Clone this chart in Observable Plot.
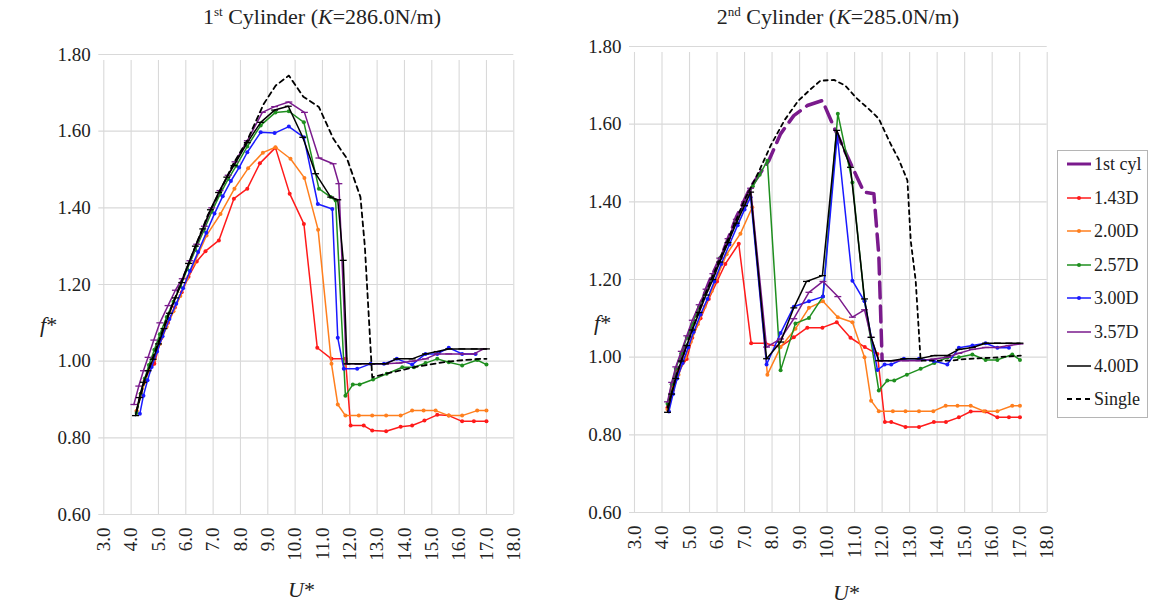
<!DOCTYPE html>
<html>
<head>
<meta charset="utf-8">
<script src="https://cdn.jsdelivr.net/npm/d3@7"></script>
<script src="https://cdn.jsdelivr.net/npm/@observablehq/plot@0.6"></script>
<style>
  body { margin: 0; background: #fff; width: 1158px; height: 613px; overflow: hidden; position: relative;
         font-family: "Liberation Serif", "Times New Roman", "Nimbus Roman", "DejaVu Serif", serif; color: #222; }
  .panel { position: absolute; top: 0; }
  .title { position: absolute; top: 4px; font-size: 22px; white-space: nowrap; transform: translateX(-50%); }
  .title sup { font-size: 13px; }
  .axt { position: absolute; font-size: 22px; white-space: nowrap; }
  #legend { position: absolute; left: 1057px; top: 150px; width: 91px; height: 268px; border: 1px solid #b5b5b5;
            box-sizing: border-box; background: #fff; }
  .item { position: absolute; left: 8px; font-size: 18px; line-height: 18px; white-space: nowrap; display: flex; align-items: center; }
  .item svg { margin-right: 2px; }
</style>
</head>
<body>
<div class="title" style="left:322px">1<sup>st</sup> Cylinder (<i>K</i>=286.0N/m)</div>
<div class="title" style="left:838px">2<sup>nd</sup> Cylinder (<i>K</i>=285.0N/m)</div>
<div id="left" class="panel" style="left:0"></div>
<div id="right" class="panel" style="left:545px"></div>
<div class="axt" style="left:40px;top:312px"><i>f</i>*</div>
<div class="axt" style="left:594px;top:310px"><i>f</i>*</div>
<div class="axt" style="left:288px;top:577px"><i>U</i>*</div>
<div class="axt" style="left:833px;top:580px"><i>U</i>*</div>
<div id="legend"></div>
<script>
// Axis ticks
const xTicks = [3, 4, 5, 6, 7, 8, 9, 10, 11, 12, 13, 14, 15, 16, 17, 18];
const yTicks = [0.6, 0.8, 1.0, 1.2, 1.4, 1.6, 1.8];

// Series names, legend order
const seriesNames = ["1st cyl", "1.43D", "2.00D", "2.57D", "3.00D", "3.57D", "4.00D", "Single"];
const seriesColors = ["#7a1a8c", "#ff1a1a", "#ff7f1e", "#1f8f1f", "#1a1aff", "#7a1a8c", "#000000", "#000000"];

// ---- 1st cylinder (K = 286.0 N/m): [U*, f*] ----
const L143 = [[4.20,0.870],[4.35,0.915],[4.50,0.950],[4.65,0.975],[4.85,0.993],[5.10,1.060],[5.35,1.100],[5.60,1.140],
  [5.85,1.180],[6.10,1.220],[6.40,1.260],[6.72,1.287],[7.21,1.315],[7.76,1.424],[8.25,1.450],[8.71,1.516],[9.28,1.557],
  [9.80,1.437],[10.32,1.358],[10.81,1.035],[11.33,1.006],[11.84,1.006],[12.03,0.832],[12.51,0.832],[12.82,0.819],
  [13.33,0.817],[13.86,0.829],[14.28,0.832],[14.73,0.845],[15.20,0.860],[15.62,0.858],[16.11,0.843],[16.54,0.843],[17.00,0.843]];
const L200 = [[4.20,0.870],[4.35,0.910],[4.50,0.945],[4.65,0.975],[4.85,1.005],[5.05,1.045],[5.30,1.090],[5.55,1.130],
  [5.80,1.170],[6.05,1.215],[6.30,1.255],[6.76,1.328],[7.27,1.384],[7.78,1.450],[8.28,1.503],[8.82,1.544],[9.28,1.558],
  [9.83,1.528],[10.34,1.478],[10.84,1.343],[11.33,0.993],[11.56,0.887],[11.84,0.858],[12.33,0.858],[12.82,0.858],
  [13.33,0.858],[13.86,0.858],[14.28,0.871],[14.70,0.871],[15.14,0.871],[15.62,0.858],[16.11,0.858],[16.66,0.871],[17.00,0.871]];
const L257 = [[4.20,0.865],[4.35,0.915],[4.50,0.955],[4.65,0.990],[4.85,1.030],[5.05,1.070],[5.30,1.115],[5.55,1.155],
  [5.80,1.195],[6.05,1.240],[6.35,1.290],[6.65,1.340],[6.95,1.390],[7.25,1.435],[7.55,1.475],[7.85,1.510],[8.25,1.560],
  [8.74,1.615],[9.28,1.649],[9.77,1.652],[10.32,1.623],[10.87,1.450],[11.30,1.428],[11.48,1.419],[11.84,0.910],
  [12.11,0.939],[12.36,0.939],[12.85,0.952],[13.35,0.967],[13.92,0.984],[14.35,0.984],[14.77,0.995],[15.20,1.006],
  [15.62,0.997],[16.11,0.989],[16.66,1.003],[17.00,0.991]];
const L300 = [[4.32,0.863],[4.45,0.910],[4.60,0.950],[4.75,0.985],[4.95,1.025],[5.15,1.065],[5.40,1.110],[5.65,1.150],
  [5.90,1.190],[6.15,1.235],[6.45,1.285],[6.75,1.335],[7.05,1.385],[7.35,1.430],[7.65,1.470],[7.95,1.505],[8.25,1.545],
  [8.74,1.597],[9.25,1.595],[9.77,1.612],[10.32,1.584],[10.83,1.410],[11.36,1.397],[11.56,1.061],[11.78,0.980],
  [12.27,0.980],[12.76,0.993],[13.25,0.993],[13.72,1.006],[14.28,0.991],[14.77,1.019],[15.20,1.019],[15.62,1.035],
  [16.11,1.019],[16.60,1.019]];
const L357 = [[4.10,0.887],[4.28,0.935],[4.45,0.975],[4.62,1.010],[4.83,1.055],[5.05,1.100],[5.35,1.145],[5.62,1.185],
  [5.87,1.215],[6.15,1.262],[6.40,1.305],[6.68,1.352],[6.95,1.400],[7.25,1.445],[7.55,1.485],[7.80,1.520],[8.25,1.575],
  [8.80,1.649],[9.25,1.664],[9.77,1.676],[10.34,1.649],[10.87,1.530],[11.39,1.515],[11.60,1.463],[11.87,0.993],
  [12.30,0.993],[12.80,0.993],[13.30,0.993],[13.80,0.995],[14.28,1.000],[14.77,1.006],[15.20,1.019],[15.62,1.019],
  [16.10,1.019],[16.54,1.019],[16.90,1.032]];
const L400 = [[4.16,0.858],[4.30,0.905],[4.45,0.945],[4.62,0.975],[4.80,1.005],[5.00,1.045],[5.20,1.085],[5.40,1.125],
  [5.62,1.165],[5.85,1.205],[6.10,1.255],[6.35,1.300],[6.62,1.345],[6.90,1.395],[7.20,1.440],[7.50,1.480],[7.76,1.510],
  [8.25,1.570],[8.74,1.623],[9.25,1.655],[9.75,1.665],[10.28,1.584],[10.75,1.489],[11.30,1.428],[11.56,1.421],
  [11.76,1.263],[11.90,0.993],[12.30,0.993],[12.80,0.993],[13.30,0.993],[13.72,1.006],[14.28,1.006],[14.77,1.019],
  [15.20,1.025],[15.62,1.032],[16.10,1.032],[16.55,1.032],[17.00,1.032]];
const LSingle = [[4.20,0.870],[4.50,0.950],[4.85,1.020],[5.30,1.110],[5.80,1.200],[6.30,1.290],[6.80,1.380],[7.21,1.437],
  [7.70,1.510],[8.25,1.576],[8.85,1.671],[9.29,1.719],[9.77,1.745],[10.30,1.690],[10.87,1.663],[11.40,1.580],[11.90,1.528],
  [12.39,1.428],[12.55,1.300],[12.82,0.958],[13.30,0.967],[13.86,0.976],[14.40,0.985],[15.07,0.993],[15.60,0.999],
  [16.20,1.003],[16.78,1.006],[17.00,1.006]];

// ---- 2nd cylinder (K = 285.0 N/m): [U*, f*] ----
const R1st = [[4.20,0.870],[4.50,0.950],[4.85,1.030],[5.30,1.120],[5.75,1.200],[6.19,1.266],[6.70,1.360],[7.22,1.438],
  [7.88,1.506],[8.31,1.575],[8.79,1.622],[9.28,1.648],[9.83,1.661],[10.25,1.592],[10.92,1.489],[11.34,1.425],[11.70,1.421],
  [11.88,1.262],[12.00,0.992]];
const R143 = [[4.20,0.870],[4.40,0.925],[4.60,0.965],[4.90,0.995],[5.10,1.050],[5.40,1.100],[5.70,1.150],[6.00,1.195],
  [6.30,1.240],[6.79,1.292],[7.24,1.036],[7.76,1.036],[8.28,1.026],[8.79,1.051],[9.28,1.076],[9.83,1.076],[10.35,1.090],
  [10.85,1.050],[11.37,1.026],[11.83,1.008],[12.10,0.833],[12.33,0.833],[12.85,0.820],[13.34,0.820],[13.88,0.833],
  [14.32,0.833],[14.79,0.845],[15.22,0.860],[15.76,0.860],[16.19,0.845],[16.61,0.845],[17.01,0.845]];
const R200 = [[4.20,0.865],[4.40,0.915],[4.60,0.955],[4.85,1.000],[5.05,1.040],[5.30,1.085],[5.55,1.130],[5.80,1.170],
  [6.05,1.215],[6.35,1.265],[6.85,1.318],[7.28,1.386],[7.83,0.955],[8.31,1.026],[8.85,1.073],[9.34,1.127],[9.85,1.144],
  [10.39,1.103],[10.92,1.090],[11.36,1.000],[11.60,0.888],[11.88,0.861],[12.39,0.861],[12.85,0.861],[13.34,0.861],
  [13.86,0.861],[14.31,0.875],[14.74,0.875],[15.22,0.875],[15.70,0.861],[16.19,0.861],[16.73,0.875],[17.01,0.875]];
const R257 = [[4.20,0.880],[4.35,0.930],[4.50,0.970],[4.70,1.010],[4.90,1.050],[5.10,1.085],[5.35,1.130],[5.60,1.170],
  [5.85,1.210],[6.10,1.255],[6.40,1.300],[6.70,1.350],[7.00,1.395],[7.30,1.440],[7.55,1.470],[7.83,1.506],[8.31,0.966],
  [8.85,1.087],[9.34,1.101],[9.85,1.156],[10.39,1.627],[10.92,1.450],[11.36,1.146],[11.88,0.914],[12.19,0.940],
  [12.44,0.940],[12.90,0.955],[13.40,0.970],[13.90,0.985],[14.37,0.999],[14.79,1.000],[15.28,1.007],[15.76,0.993],
  [16.19,0.993],[16.73,1.007],[17.01,0.993]];
const R300 = [[4.25,0.860],[4.40,0.905],[4.55,0.945],[4.75,0.985],[4.95,1.025],[5.15,1.065],[5.40,1.110],[5.65,1.150],
  [5.90,1.195],[6.15,1.240],[6.45,1.290],[6.75,1.340],[7.00,1.380],[7.22,1.412],[7.80,0.981],[8.31,1.062],[8.79,1.130],
  [9.34,1.144],[9.85,1.156],[10.37,1.571],[10.92,1.197],[11.36,1.144],[11.83,0.967],[12.09,0.981],[12.33,0.981],
  [12.79,0.996],[13.34,0.996],[13.88,0.990],[14.37,0.981],[14.79,1.024],[15.28,1.030],[15.76,1.036],[16.19,1.024],[16.61,1.024]];
const R357 = [[4.20,0.885],[4.35,0.935],[4.50,0.975],[4.70,1.015],[4.90,1.055],[5.10,1.095],[5.35,1.135],[5.60,1.175],
  [5.85,1.215],[6.10,1.255],[6.40,1.305],[6.70,1.355],[7.00,1.400],[7.22,1.435],[7.80,1.026],[8.31,1.047],[8.79,1.099],
  [9.34,1.167],[9.85,1.195],[10.39,1.156],[10.92,1.103],[11.36,1.122],[11.60,1.051],[11.88,0.991],[12.40,0.991],
  [12.85,0.991],[13.34,0.991],[13.88,0.995],[14.37,1.000],[14.79,1.010],[15.28,1.020],[15.76,1.025],[16.19,1.025],
  [16.61,1.030],[17.01,1.034]];
const R400 = [[4.20,0.858],[4.35,0.905],[4.50,0.945],[4.70,0.990],[4.90,1.030],[5.10,1.070],[5.35,1.115],[5.60,1.160],
  [5.85,1.200],[6.10,1.245],[6.40,1.295],[6.70,1.345],[7.00,1.390],[7.22,1.425],[7.80,0.996],[8.31,1.039],[8.79,1.127],
  [9.25,1.195],[9.83,1.210],[10.35,1.584],[10.85,1.489],[11.36,1.150],[11.60,1.051],[11.88,0.991],[12.33,0.991],
  [12.79,0.996],[13.34,0.996],[13.88,1.004],[14.37,1.004],[14.79,1.020],[15.28,1.025],[15.76,1.036],[16.19,1.036],
  [16.61,1.036],[17.01,1.036]];
const RSingle = [[4.20,0.870],[4.55,0.960],[5.00,1.050],[5.50,1.150],[6.00,1.235],[6.50,1.320],[7.00,1.405],[7.50,1.475],
  [7.95,1.545],[8.45,1.610],[8.95,1.660],[9.40,1.690],[9.76,1.712],[10.25,1.714],[10.65,1.700],[11.10,1.665],[11.50,1.640],
  [11.88,1.614],[12.31,1.549],[12.60,1.510],[12.92,1.455],[13.04,1.300],[13.22,1.197],[13.40,0.991],[14.00,0.991],
  [14.50,0.991],[15.00,0.995],[15.50,0.997],[16.07,0.999],[16.60,1.002],[17.04,1.004]];

// Short horizontal dash used as a point marker
const dashSymbol = {draw(ctx, size) { const w = Math.sqrt(size) * 0.75; ctx.moveTo(-w, 0); ctx.lineTo(w, 0); }};

const FONT = "'Liberation Serif', 'Times New Roman', 'Nimbus Roman', 'DejaVu Serif', serif";
const GRID = "#d9d9d9";

function markedSeries(data, color, marker) {
  const marks = [Plot.line(data, {x: d => d[0], y: d => d[1], stroke: color, strokeWidth: 1.5})];
  if (marker === "dot") marks.push(Plot.dot(data, {x: d => d[0], y: d => d[1], r: 2, fill: color, stroke: "none"}));
  else marks.push(Plot.dot(data, {x: d => d[0], y: d => d[1], r: 2.6, symbol: dashSymbol, stroke: color, strokeWidth: 1.3, fill: "none"}));
  return marks;
}

function panel({width, marginLeft, marginRight, marginTop, marginBottom, series}) {
  return Plot.plot({
    width, height: 613, marginLeft, marginRight, marginTop, marginBottom,
    style: {fontFamily: FONT, background: "transparent", overflow: "visible", color: "#222"},
    x: {domain: [3, 18], axis: null},
    y: {domain: [0.6, 1.8], axis: null},
    marks: [
      Plot.ruleY(yTicks, {y: d => d, x1: 3, x2: 18, stroke: GRID, strokeWidth: 1.1, insetLeft: -5}),
      Plot.ruleX(xTicks, {x: d => d, y1: 0.6, y2: 1.8, stroke: GRID, strokeWidth: 1.1, insetBottom: -6}),
      Plot.text(yTicks, {x: 3, y: d => d, text: d => d.toFixed(2), textAnchor: "end", dx: -13, fontSize: 19, fill: "#222"}),
      Plot.text(xTicks, {x: d => d, y: 0.6, text: d => d.toFixed(1), rotate: -90, textAnchor: "end", lineAnchor: "middle",
                         dy: 13, fontSize: 19, fill: "#222"}),
      ...series
    ]
  });
}

const leftChart = panel({
  width: 545, marginLeft: 103.3, marginRight: 31.7, marginTop: 54, marginBottom: 99,
  series: [
    ...markedSeries(L143, seriesColors[1], "dot"),
    ...markedSeries(L200, seriesColors[2], "dot"),
    ...markedSeries(L257, seriesColors[3], "dot"),
    ...markedSeries(L300, seriesColors[4], "dot"),
    ...markedSeries(L357, seriesColors[5], "dash"),
    ...markedSeries(L400, seriesColors[6], "dash"),
    Plot.line(LSingle, {x: d => d[0], y: d => d[1], stroke: "#000", strokeWidth: 1.8, strokeDasharray: "5,4"})
  ]
});

const rightChart = panel({
  width: 520, marginLeft: 89, marginRight: 18.3, marginTop: 46, marginBottom: 101,
  series: [
    Plot.line(R1st, {x: d => d[0], y: d => d[1], stroke: seriesColors[0], strokeWidth: 3.5, strokeDasharray: "16,8"}),
    ...markedSeries(R143, seriesColors[1], "dot"),
    ...markedSeries(R200, seriesColors[2], "dot"),
    ...markedSeries(R257, seriesColors[3], "dot"),
    ...markedSeries(R300, seriesColors[4], "dot"),
    ...markedSeries(R357, seriesColors[5], "dash"),
    ...markedSeries(R400, seriesColors[6], "dash"),
    Plot.line(RSingle, {x: d => d[0], y: d => d[1], stroke: "#000", strokeWidth: 1.8, strokeDasharray: "4,4"})
  ]
});

document.getElementById("left").append(leftChart);
document.getElementById("right").append(rightChart);

// Legend
const legend = document.getElementById("legend");
const legendStyle = [
  {w: 3, dash: null, dot: false},
  {w: 1.5, dash: null, dot: true},
  {w: 1.5, dash: null, dot: true},
  {w: 1.5, dash: null, dot: true},
  {w: 1.5, dash: null, dot: true},
  {w: 1.5, dash: null, dot: false},
  {w: 1.5, dash: null, dot: false},
  {w: 1.8, dash: "5,4", dot: false}
];
seriesNames.forEach((name, i) => {
  const s = legendStyle[i];
  const item = document.createElement("div");
  item.className = "item";
  item.style.top = (4 + i * 33.6) + "px";
  const c = seriesColors[i];
  item.innerHTML =
    `<svg width="26" height="12"><line x1="1" x2="25" y1="6" y2="6" stroke="${c}" stroke-width="${s.w}"` +
    (s.dash ? ` stroke-dasharray="${s.dash}"` : "") + `/>` +
    (s.dot ? `<circle cx="13" cy="6" r="2" fill="${c}"/>` : "") + `</svg><span>${name}</span>`;
  legend.append(item);
});
</script>
</body>
</html>
